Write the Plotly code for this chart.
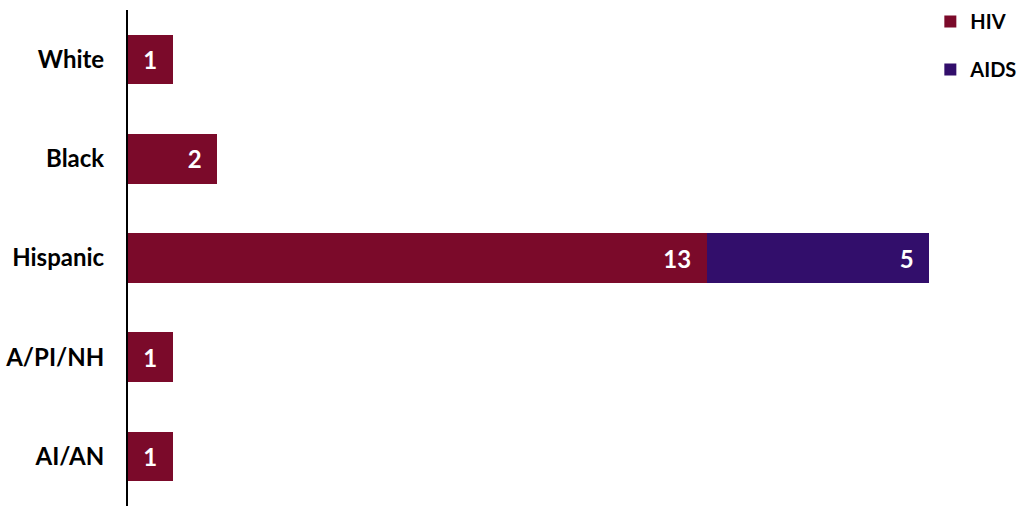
import plotly.graph_objects as go

categories = ["White", "Black", "Hispanic", "A/PI/NH", "AI/AN"]
hiv = [1, 2, 13, 1, 1]
aids = [0, 0, 5, 0, 0]

FONT = "Lato"
hiv_color = "#7B0A2A"
aids_color = "#320E6B"

PAD = "\u00a0\u00a0"

def labels(vals):
    return [f"<b>{v}</b>{PAD}" if v else "" for v in vals]

fig = go.Figure()
fig.add_trace(go.Bar(
    y=categories, x=hiv, orientation="h", name="<b>HIV</b>",
    marker=dict(color=hiv_color, line=dict(width=0)),
    text=labels(hiv), textposition="inside", insidetextanchor="end",
    textfont=dict(color="white", size=24, family=FONT),
    legendgroup="a",
))
fig.add_trace(go.Bar(
    y=categories, x=aids, orientation="h", name="<b>AIDS</b>",
    marker=dict(color=aids_color, line=dict(width=0)),
    text=labels(aids), textposition="inside", insidetextanchor="end",
    textfont=dict(color="white", size=24, family=FONT),
    legendgroup="b",
))

fig.update_layout(
    width=1028, height=506,
    barmode="stack", bargap=0.5,
    plot_bgcolor="white", paper_bgcolor="white",
    margin=dict(l=128, r=10, t=10, b=0, autoexpand=False),
    font=dict(family=FONT, size=20, color="black"),
    showlegend=True,
    legend=dict(x=1.006, y=1.016, xanchor="right", yanchor="top",
                font=dict(size=20, family=FONT, color="black"),
                tracegroupgap=19, itemwidth=30, bgcolor="rgba(0,0,0,0)"),
    uniformtext=dict(mode="show", minsize=10),
)
fig.update_xaxes(range=[0, 20], showgrid=False, zeroline=False,
                 showticklabels=False, ticks="", showline=False)
fig.update_yaxes(autorange="reversed", showgrid=False, zeroline=False,
                 showline=True, linecolor="black", linewidth=2,
                 ticks="", ticklabelstandoff=17, automargin=False,
                 tickfont=dict(size=24, family=FONT, color="black"),
                 tickvals=categories,
                 ticktext=[f"<b>{c}</b>" for c in categories])

fig.write_html("out.html",
               config={"displayModeBar": False},
               post_script="document.body.style.margin='0';document.body.style.padding='0';")
